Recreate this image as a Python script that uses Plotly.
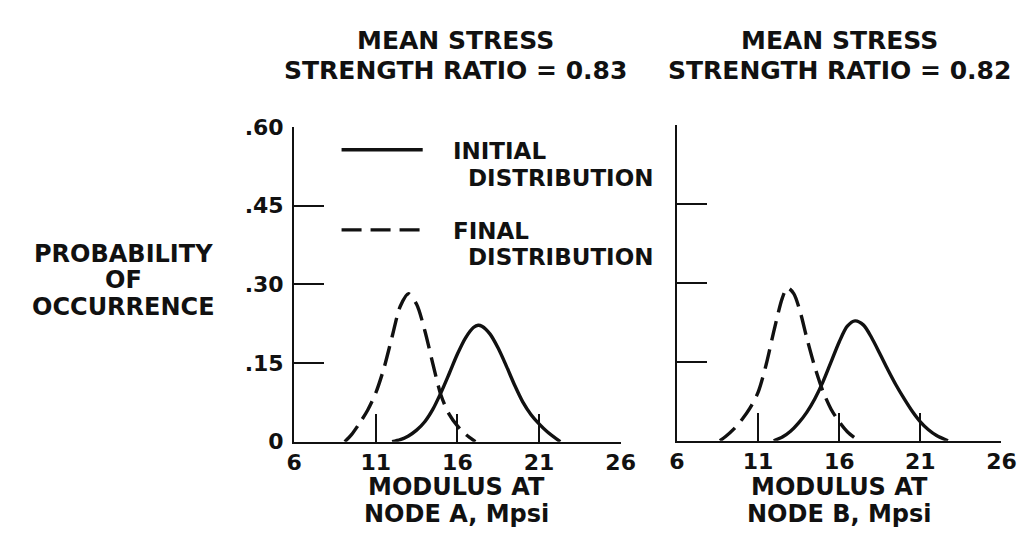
import plotly.graph_objects as go

# ---- data ----
x_ticks = [6, 11, 16, 21, 26]
x_tick_text = ["6", "11", "16", "21", "26"]
y_ticks = [0, 0.15, 0.30, 0.45, 0.60]
y_tick_text = ["0", ".15", ".30", ".45", ".60"]

a_initial_x = [12.0, 12.5, 13.0, 13.5, 14.0, 14.5, 15.0, 15.5, 16.0, 16.5, 17.0, 17.27,
               17.5, 18.0, 18.5, 19.0, 19.5, 20.0, 20.5, 21.0, 21.5, 22.3]
a_initial_y = [0.0, 0.004, 0.011, 0.022, 0.038, 0.062, 0.094, 0.130, 0.167, 0.198, 0.218, 0.222,
               0.220, 0.205, 0.178, 0.144, 0.108, 0.076, 0.052, 0.034, 0.019, 0.0]
a_final_x = [9.1, 9.5, 10.0, 10.5, 11.0, 11.5, 12.0, 12.5, 13.0, 13.5, 14.0, 14.5, 15.0,
             15.5, 16.0, 16.5, 17.1]
a_final_y = [0.0, 0.013, 0.035, 0.060, 0.093, 0.140, 0.200, 0.258, 0.282, 0.262, 0.212, 0.148,
             0.088, 0.052, 0.030, 0.014, 0.0]

b_initial_x = [11.96, 12.5, 13.0, 13.5, 14.0, 14.5, 15.0, 15.5, 16.0, 16.5, 16.98, 17.5, 18.0,
               18.5, 19.0, 19.5, 20.0, 20.5, 21.0, 21.5, 22.0, 22.7]
b_initial_y = [0.0, 0.007, 0.018, 0.034, 0.054, 0.080, 0.112, 0.150, 0.188, 0.218, 0.228, 0.220,
               0.196, 0.166, 0.135, 0.106, 0.080, 0.056, 0.036, 0.021, 0.010, 0.0]
b_final_x = [8.65, 9.0, 9.5, 10.0, 10.5, 11.0, 11.5, 12.0, 12.5, 12.81, 13.2, 13.6, 14.0, 14.5,
             15.0, 15.5, 16.0, 16.5, 17.2]
b_final_y = [0.0, 0.008, 0.022, 0.040, 0.062, 0.092, 0.145, 0.212, 0.272, 0.291, 0.280, 0.245,
             0.196, 0.140, 0.094, 0.060, 0.036, 0.017, 0.0]

titles_a = ["MEAN STRESS", "STRENGTH RATIO = 0.83"]
titles_b = ["MEAN STRESS", "STRENGTH RATIO = 0.82"]
xlabel_a = ["MODULUS AT", "NODE A, Mpsi"]
xlabel_b = ["MODULUS AT", "NODE B, Mpsi"]
ylabel = ["PROBABILITY", "OF", "OCCURRENCE"]

W, H = 1030, 544
FONT = "DejaVu Sans"
BLACK = "#111111"
DASH = "20px,9px"


def px(x):
    return x / W


def py(y):
    return 1 - y / H


fig = go.Figure()

line_solid = dict(color=BLACK, width=3.4, shape="spline", smoothing=0.8)
line_dash = dict(color=BLACK, width=3.4, shape="spline", smoothing=0.8, dash=DASH)

fig.add_trace(go.Scatter(x=a_initial_x, y=a_initial_y, mode="lines", line=line_solid,
                         xaxis="x", yaxis="y", showlegend=False))
fig.add_trace(go.Scatter(x=a_final_x, y=a_final_y, mode="lines", line=line_dash,
                         xaxis="x", yaxis="y", showlegend=False))
fig.add_trace(go.Scatter(x=b_initial_x, y=b_initial_y, mode="lines", line=line_solid,
                         xaxis="x2", yaxis="y2", showlegend=False))
fig.add_trace(go.Scatter(x=b_final_x, y=b_final_y, mode="lines", line=line_dash,
                         xaxis="x2", yaxis="y2", showlegend=False))

tickfont = dict(family=FONT, size=22, color=BLACK, weight="bold")

xcommon = dict(range=[6, 26], tickvals=x_ticks, ticktext=x_tick_text, showgrid=False,
               zeroline=False, showline=True, linecolor=BLACK, linewidth=2.2,
               ticks="inside", ticklen=28, tickwidth=2, tickcolor=BLACK,
               tickfont=tickfont, fixedrange=True)
ycommon = dict(range=[0, 0.6], tickvals=y_ticks, ticktext=y_tick_text, showgrid=False,
               zeroline=False, showline=True, linecolor=BLACK, linewidth=2.2,
               ticks="inside", ticklen=30, tickwidth=2, tickcolor=BLACK,
               tickfont=tickfont, fixedrange=True)

fig.update_layout(
    width=W, height=H, autosize=False,
    margin=dict(l=0, r=0, t=0, b=0),
    paper_bgcolor="white", plot_bgcolor="white",
    xaxis=dict(domain=[px(284.5), px(618.5)], anchor="y", **xcommon),
    yaxis=dict(domain=[py(442), py(112)], anchor="x", ticklabelstandoff=4, **ycommon),
    xaxis2=dict(domain=[px(676), px(1008)], anchor="y2", **xcommon),
    yaxis2=dict(domain=[py(441), py(110.5)], anchor="x2", showticklabels=False, **ycommon),
)

anns = []


def txt(t, x, y, size, xanchor="center"):
    anns.append(dict(text=t, x=px(x), y=py(y), xref="paper", yref="paper",
                     xanchor=xanchor, yanchor="middle", showarrow=False,
                     font=dict(family=FONT, size=size, color=BLACK, weight="bold")))


# titles
txt(titles_a[0], 450, 22, 25)
txt(titles_a[1], 450, 53, 25)
txt(titles_b[0], 842, 22, 25)
txt(titles_b[1], 842, 53, 25)
# x-axis titles
txt(xlabel_a[0], 451, 490, 24)
txt(xlabel_a[1], 451, 518, 24)
txt(xlabel_b[0], 842, 490, 24)
txt(xlabel_b[1], 842, 518, 24)
# y-axis title
txt(ylabel[0], 110, 245, 24)
txt(ylabel[1], 110, 273, 24)
txt(ylabel[2], 110, 301, 24)
# legend text
txt("INITIAL", 445, 137, 23, "left")
txt("DISTRIBUTION", 460, 166, 23, "left")
txt("FINAL", 445, 221, 23, "left")
txt("DISTRIBUTION", 460, 248, 23, "left")

fig.update_layout(annotations=anns)

# legend key lines
fig.add_shape(type="line", xref="paper", yref="paper", x0=px(333), x1=px(416),
              y0=py(136), y1=py(136), line=dict(color=BLACK, width=3.4))
fig.add_shape(type="line", xref="paper", yref="paper", x0=px(333), x1=px(416),
              y0=py(220), y1=py(220), line=dict(color=BLACK, width=3.4, dash=DASH))

fig.write_html("out.html")
